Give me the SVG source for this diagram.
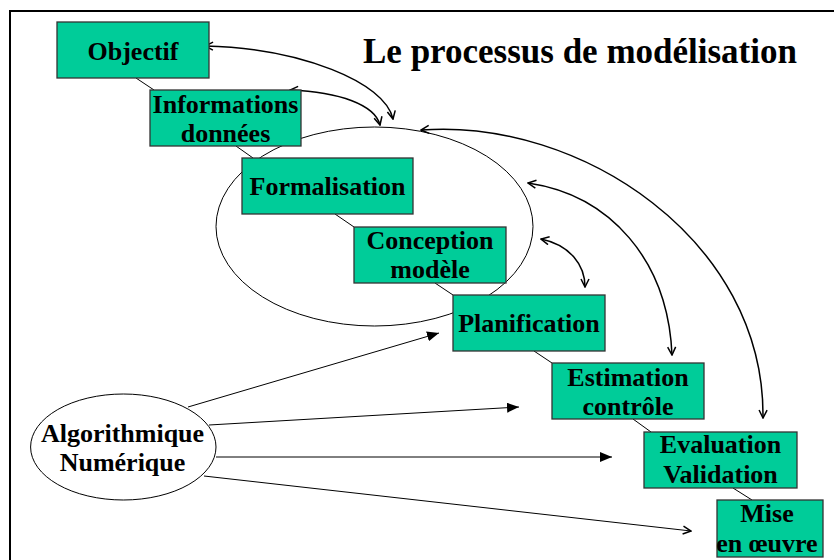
<svg xmlns="http://www.w3.org/2000/svg" width="834" height="560" viewBox="0 0 834 560">
  <style>
    .box { fill: #00cc99; stroke: #333; stroke-width: 1.3; }
    .lbl { font-family: "Liberation Serif", "Times New Roman", serif; font-weight: bold; font-size: 26px; fill: #000; text-anchor: middle; }
    .title { font-family: "Liberation Serif", "Times New Roman", serif; font-weight: bold; font-size: 35px; fill: #000; }
    .thin { fill: none; stroke: #000; stroke-width: 1; }
    .curve { fill: none; stroke: #000; stroke-width: 1.5; }
  </style>
  <defs>
    <marker id="open" viewBox="0 0 10 10" refX="9" refY="5" markerWidth="10" markerHeight="10" markerUnits="userSpaceOnUse" orient="auto-start-reverse">
      <path d="M1,1 L9,5 L1,9" fill="none" stroke="#000" stroke-width="1.5"/>
    </marker>
    <marker id="solid" viewBox="0 0 12 10" refX="12" refY="5" markerWidth="12" markerHeight="10" markerUnits="userSpaceOnUse" orient="auto">
      <path d="M0,0 L12,5 L0,10 Z" fill="#000"/>
    </marker>
  </defs>

  <rect width="834" height="560" fill="#fff"/>
  <!-- frame -->
  <path d="M10,560 L10,11 L834,11" fill="none" stroke="#000" stroke-width="2"/>

  <!-- title -->
  <text class="title" x="363" y="63">Le processus de modélisation</text>

  <!-- model loop ellipse -->
  <ellipse cx="374.5" cy="226.5" rx="158.5" ry="99.5" class="thin"/>

  <g id="connectors">
    <!-- chain links -->
    <line class="thin" x1="136" y1="78" x2="154" y2="90"/>
    <line class="thin" x1="236" y1="146" x2="253" y2="158"/>
    <line class="thin" x1="335" y1="214" x2="354" y2="227"/>
    <line class="thin" x1="435" y1="283" x2="453" y2="295"/>
    <line class="thin" x1="534" y1="351" x2="552" y2="363"/>
    <line class="thin" x1="633" y1="419" x2="651" y2="432"/>
    <line class="thin" x1="733" y1="488" x2="752" y2="500"/>
    <!-- feedback loops -->
    <path class="curve" d="M205,46 C300,48 385,82 393,119" marker-start="url(#open)" marker-end="url(#open)"/>
    <path class="curve" d="M290,90 C340,92 375,105 380,125" marker-start="url(#open)" marker-end="url(#open)"/>
    <path class="curve" d="M421,130 C580,118 765,240 763,418" marker-start="url(#open)" marker-end="url(#open)"/>
    <path class="curve" d="M528,183 C610,195 668,260 672,355" marker-start="url(#open)" marker-end="url(#open)"/>
    <path class="curve" d="M541,239 C570,245 585,265 585,287" marker-start="url(#open)" marker-end="url(#open)"/>
    <!-- algorithmic support -->
    <line class="thin" x1="188" y1="407" x2="439" y2="333" marker-end="url(#solid)"/>
    <line class="thin" x1="209" y1="425" x2="519" y2="407" marker-end="url(#solid)"/>
    <line class="thin" x1="216" y1="457" x2="612" y2="457" marker-end="url(#solid)"/>
    <line class="thin" x1="204" y1="476" x2="691" y2="531" marker-end="url(#open)"/>
  </g>

  <g id="objectif">
    <rect class="box" x="57" y="22" width="152" height="56"/>
    <text class="lbl" x="133" y="60">Objectif</text>
  </g>
  <g id="informations">
    <rect class="box" x="150" y="90" width="151" height="56"/>
    <text class="lbl" x="225.5" y="113">Informations</text>
    <text class="lbl" x="225.5" y="142">données</text>
  </g>
  <g id="formalisation">
    <rect class="box" x="242" y="158" width="171" height="56"/>
    <text class="lbl" x="327.5" y="195">Formalisation</text>
  </g>
  <g id="conception">
    <rect class="box" x="354" y="227" width="152" height="56"/>
    <text class="lbl" x="430" y="249">Conception</text>
    <text class="lbl" x="430" y="278">modèle</text>
  </g>
  <g id="planification">
    <rect class="box" x="453" y="295" width="152" height="56"/>
    <text class="lbl" x="529" y="332">Planification</text>
  </g>
  <g id="estimation">
    <rect class="box" x="552" y="363" width="152" height="56"/>
    <text class="lbl" x="628" y="386">Estimation</text>
    <text class="lbl" x="628" y="415">contrôle</text>
  </g>
  <g id="evaluation">
    <rect class="box" x="644" y="432" width="153" height="56"/>
    <text class="lbl" x="720.5" y="453">Evaluation</text>
    <text class="lbl" x="720.5" y="483">Validation</text>
  </g>
  <g id="mise">
    <rect class="box" x="717" y="500" width="106" height="57"/>
    <text class="lbl" x="767" y="522">Mise</text>
    <text class="lbl" x="767" y="552">en œuvre</text>
  </g>
  <g id="algorithmique">
    <ellipse cx="123.3" cy="447" rx="92.7" ry="53" fill="#fff" stroke="#000" stroke-width="1"/>
    <text class="lbl" x="122.5" y="442">Algorithmique</text>
    <text class="lbl" x="122.5" y="471">Numérique</text>
  </g>
</svg>
